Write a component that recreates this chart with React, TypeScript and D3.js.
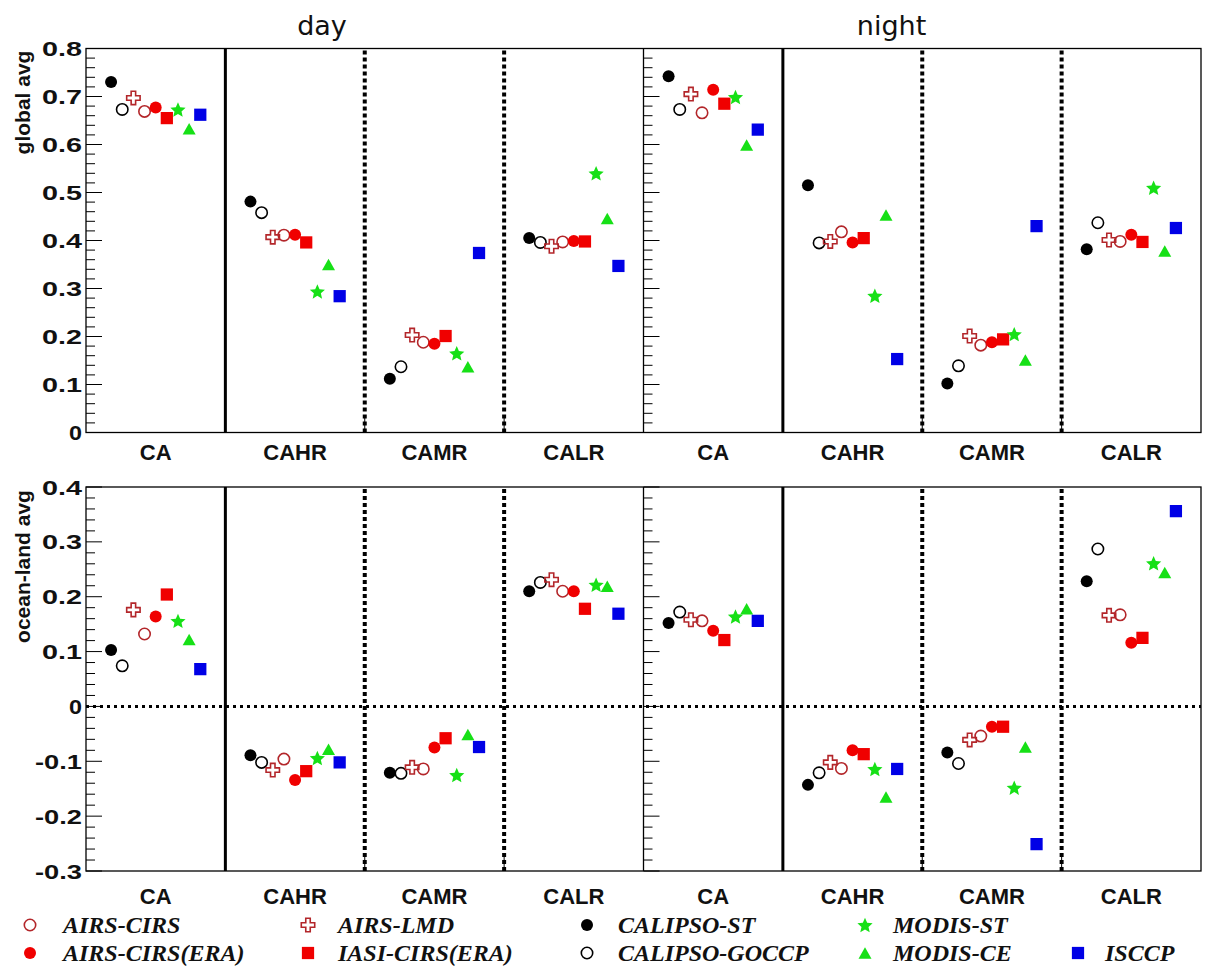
import React from 'react';
import * as d3 from 'd3';

// ---------- data ----------
const categories = ['CA', 'CAHR', 'CAMR', 'CALR'];
const periods = ['day', 'night'];
const seriesNames = [
  'CALIPSO-ST', 'CALIPSO-GOCCP', 'AIRS-LMD', 'AIRS-CIRS', 'AIRS-CIRS(ERA)',
  'IASI-CIRS(ERA)', 'MODIS-ST', 'MODIS-CE', 'ISCCP',
];
// order of values: day CA, CAHR, CAMR, CALR, night CA, CAHR, CAMR, CALR
const calipsoStGlobal = [0.730, 0.481, 0.112, 0.405, 0.742, 0.515, 0.102, 0.382];
const calipsoGoccpGlobal = [0.673, 0.458, 0.137, 0.396, 0.673, 0.395, 0.139, 0.437];
const airsLmdGlobal = [0.697, 0.407, 0.203, 0.388, 0.705, 0.398, 0.201, 0.401];
const airsCirsGlobal = [0.669, 0.411, 0.188, 0.397, 0.666, 0.418, 0.182, 0.398];
const airsCirsEraGlobal = [0.677, 0.412, 0.185, 0.399, 0.714, 0.396, 0.188, 0.412];
const iasiCirsEraGlobal = [0.655, 0.396, 0.201, 0.398, 0.685, 0.405, 0.194, 0.397];
const modisStGlobal = [0.673, 0.294, 0.165, 0.540, 0.699, 0.285, 0.205, 0.510];
const modisCeGlobal = [0.633, 0.350, 0.137, 0.446, 0.599, 0.453, 0.151, 0.378];
const isccpGlobal = [0.662, 0.284, 0.374, 0.347, 0.631, 0.153, 0.430, 0.426];

const calipsoStOcean = [0.103, -0.089, -0.121, 0.210, 0.152, -0.143, -0.084, 0.228];
const calipsoGoccpOcean = [0.074, -0.102, -0.122, 0.226, 0.172, -0.121, -0.104, 0.287];
const airsLmdOcean = [0.176, -0.116, -0.111, 0.231, 0.158, -0.102, -0.061, 0.166];
const airsCirsOcean = [0.132, -0.096, -0.114, 0.210, 0.156, -0.113, -0.054, 0.167];
const airsCirsEraOcean = [0.164, -0.134, -0.075, 0.210, 0.138, -0.080, -0.037, 0.116];
const iasiCirsEraOcean = [0.204, -0.118, -0.058, 0.178, 0.121, -0.087, -0.037, 0.125];
const modisStOcean = [0.156, -0.094, -0.125, 0.222, 0.164, -0.114, -0.148, 0.261];
const modisCeOcean = [0.122, -0.078, -0.051, 0.219, 0.178, -0.165, -0.074, 0.244];
const isccpOcean = [0.068, -0.102, -0.074, 0.169, 0.156, -0.114, -0.251, 0.356];

const globalTicks = [0, 0.1, 0.2, 0.3, 0.4, 0.5, 0.6, 0.7, 0.8];
const oceanTicks = [-0.3, -0.2, -0.1, 0, 0.1, 0.2, 0.3, 0.4];
const tickLabelsGlobal = ['0', '0.1', '0.2', '0.3', '0.4', '0.5', '0.6', '0.7', '0.8'];
const tickLabelsOcean = ['-0.3', '-0.2', '-0.1', '0', '0.1', '0.2', '0.3', '0.4'];

const globalValues = [calipsoStGlobal, calipsoGoccpGlobal, airsLmdGlobal, airsCirsGlobal, airsCirsEraGlobal, iasiCirsEraGlobal, modisStGlobal, modisCeGlobal, isccpGlobal];
const oceanValues = [calipsoStOcean, calipsoGoccpOcean, airsLmdOcean, airsCirsOcean, airsCirsEraOcean, iasiCirsEraOcean, modisStOcean, modisCeOcean, isccpOcean];

// ---------- styles ----------
const RED = '#f00000';
const DARKRED = '#b3262a';
const GREEN = '#16e016';
const BLUE = '#0000e6';
const markerStyle: Record<string, { shape: string; fill: string; stroke: string }> = {
  'CALIPSO-ST': { shape: 'circle', fill: '#000', stroke: 'none' },
  'CALIPSO-GOCCP': { shape: 'circle', fill: 'none', stroke: '#000' },
  'AIRS-LMD': { shape: 'cross', fill: 'none', stroke: DARKRED },
  'AIRS-CIRS': { shape: 'circle', fill: 'none', stroke: DARKRED },
  'AIRS-CIRS(ERA)': { shape: 'circle', fill: RED, stroke: 'none' },
  'IASI-CIRS(ERA)': { shape: 'square', fill: RED, stroke: 'none' },
  'MODIS-ST': { shape: 'star', fill: GREEN, stroke: 'none' },
  'MODIS-CE': { shape: 'triangle', fill: GREEN, stroke: 'none' },
  'ISCCP': { shape: 'square', fill: BLUE, stroke: 'none' },
};

const legendCols = [
  ['AIRS-CIRS', 'AIRS-CIRS(ERA)'],
  ['AIRS-LMD', 'IASI-CIRS(ERA)'],
  ['CALIPSO-ST', 'CALIPSO-GOCCP'],
  ['MODIS-ST', 'MODIS-CE'],
  [null, 'ISCCP'],
];

function starPath(R: number, ratio: number): string {
  const pts: [number, number][] = [];
  for (let k = 0; k < 10; k++) {
    const r = k % 2 === 0 ? R : R * ratio;
    const a = -Math.PI / 2 + (k * Math.PI) / 5;
    pts.push([r * Math.cos(a), r * Math.sin(a) + R * 0.1]);
  }
  return d3.line()(pts)! + 'Z';
}

function symbolPath(shape: string, scale = 1): string {
  if (shape === 'circle') return d3.symbol(d3.symbolCircle, Math.PI * 36 * scale * scale)()!;
  if (shape === 'square') return d3.symbol(d3.symbolSquare, 150 * scale * scale)()!;
  if (shape === 'cross') return d3.symbol(d3.symbolCross, 100 * scale * scale)()!;
  if (shape === 'star') return starPath(8 * scale, 0.46);
  // triangle centred on its bounding box
  const w = 13 * scale, h = 11.5 * scale;
  return `M0,${-h / 2}L${w / 2},${h / 2}L${-w / 2},${h / 2}Z`;
}

function Marker({ name, cx, cy, scale = 1 }: { name: string; cx: number; cy: number; scale?: number }) {
  const st = markerStyle[name];
  const open = st.fill === 'none';
  return (
    <path
      d={symbolPath(st.shape, open && st.shape === 'circle' ? 0.95 * scale : scale)}
      transform={`translate(${cx},${cy})`}
      fill={open ? 'none' : st.fill}
      stroke={st.stroke}
      strokeWidth={open ? 1.6 : 0}
    />
  );
}

const W = 1208, H = 967;
const X0 = 86, X1 = 1201;
const x = d3.scaleLinear().domain([0, 8]).range([X0, X1]);

const panels = [
  { title: 'global avg', titleY: 102.5, values: globalValues, domain: [0, 0.8], top: 48.5, bottom: 432.5, ticks: globalTicks, tickLabels: tickLabelsGlobal, labelY: 460, zero: false },
  { title: 'ocean-land avg', titleY: 566.5, values: oceanValues, domain: [-0.3, 0.4], top: 487, bottom: 871, ticks: oceanTicks, tickLabels: tickLabelsOcean, labelY: 904, zero: true },
];

function labelWidth(s: string) {
  if (s === '0') return 13;
  let w = 0;
  for (const c of s) w += c === '-' ? 7 : c === '.' ? 10 : 15;
  return w;
}

function Panel({ p }: { p: typeof panels[number] }) {
  const y = d3.scaleLinear().domain(p.domain).range([p.bottom, p.top]);
  const minor = d3.range(Math.round(p.domain[0] * 50), Math.round(p.domain[1] * 50) + 1);
  const axisXs = [x(0), x(4)];
  return (
    <g>
      {/* y-axis ticks on both panel left edges */}
      {axisXs.map((ax, k) => (
        <g key={k}>
          {minor.map((i) => {
            const major = i % 5 === 0;
            const yy = y(i / 50);
            return <line key={i} x1={ax} x2={ax + (major ? 16 : 9)} y1={yy} y2={yy} stroke="#000" strokeWidth={1} />;
          })}
        </g>
      ))}
      {/* tick labels */}
      {p.ticks.map((t, i) => (
        <text key={i} x={82} y={y(t)} textAnchor="end" dominantBaseline="central"
          fontFamily="'Liberation Sans', Arial, sans-serif" fontWeight="bold" fontSize={21}
          textLength={labelWidth(p.tickLabels[i])} lengthAdjust="spacingAndGlyphs" fill="#111">
          {p.tickLabels[i]}
        </text>
      ))}
      {/* axis title */}
      <text transform={`translate(30,${p.titleY}) rotate(-90)`} textAnchor="middle"
        fontFamily="'Liberation Sans', Arial, sans-serif" fontWeight="bold" fontSize={21} fill="#111">
        {p.title}
      </text>
      {/* zero line */}
      {p.zero && (
        <line x1={X0} x2={X1} y1={y(0)} y2={y(0)} stroke="#000" strokeWidth={3} strokeDasharray="3,4" />
      )}
      {/* section separators */}
      {[1, 5].map((s) => (
        <line key={'s' + s} x1={x(s)} x2={x(s)} y1={p.top} y2={p.bottom} stroke="#000" strokeWidth={3} />
      ))}
      {[2, 3, 6, 7].map((s) => (
        <g key={'d' + s}>
          <line x1={x(s)} x2={x(s)} y1={p.top + 2} y2={p.bottom} stroke="#000" strokeWidth={4} strokeDasharray="4,3" />
          <line x1={x(s)} x2={x(s)} y1={p.bottom - 16} y2={p.bottom} stroke="#000" strokeWidth={1} />
        </g>
      ))}
      <line x1={x(4)} x2={x(4)} y1={p.top} y2={p.bottom} stroke="#000" strokeWidth={1.3} />
      {/* frame */}
      <rect x={X0} y={p.top} width={X1 - X0} height={p.bottom - p.top} fill="none" stroke="#000" strokeWidth={1.3} />
      {/* category labels */}
      {d3.range(8).map((s) => (
        <text key={'c' + s} x={x(s + 0.5)} y={p.labelY} textAnchor="middle"
          fontFamily="'Liberation Sans', Arial, sans-serif" fontWeight="bold" fontSize={22} fill="#111">
          {categories[s % 4]}
        </text>
      ))}
      {/* markers */}
      {d3.range(8).map((s) => (
        <g key={'m' + s}>
          {seriesNames.map((name, i) => (
            <Marker key={name} name={name} cx={x(s + 0.18 + i * 0.08)} cy={y(p.values[i][s])} />
          ))}
        </g>
      ))}
    </g>
  );
}

const legendMarkerX = [30, 308, 587, 865, 1078];
const legendTextX = [63, 338, 618, 893, 1105];
const legendRowY = [925, 953];

export default function App() {
  return (
    <svg width={W} height={H} viewBox={`0 0 ${W} ${H}`}
      style={{ position: 'absolute', left: 0, top: 0, background: '#fff' }}>
      <rect width={W} height={H} fill="#fff" />
      <text x={322} y={35} textAnchor="middle" fontFamily="'DejaVu Sans', sans-serif" fontSize={27} fill="#111">{periods[0]}</text>
      <text x={891.5} y={35} textAnchor="middle" fontFamily="'DejaVu Sans', sans-serif" fontSize={27} fill="#111">{periods[1]}</text>
      {panels.map((p, i) => <Panel key={i} p={p} />)}
      {legendCols.map((col, c) => (
        <g key={c}>
          {col.map((name, r) => name && (
            <g key={name}>
              <Marker name={name} cx={legendMarkerX[c]} cy={legendRowY[r]} />
              <text x={legendTextX[c]} y={legendRowY[r] + 8} fontFamily="'Liberation Serif', 'Times New Roman', serif"
                fontStyle="italic" fontWeight="bold" fontSize={24} fill="#111">{name}</text>
            </g>
          ))}
        </g>
      ))}
    </svg>
  );
}
